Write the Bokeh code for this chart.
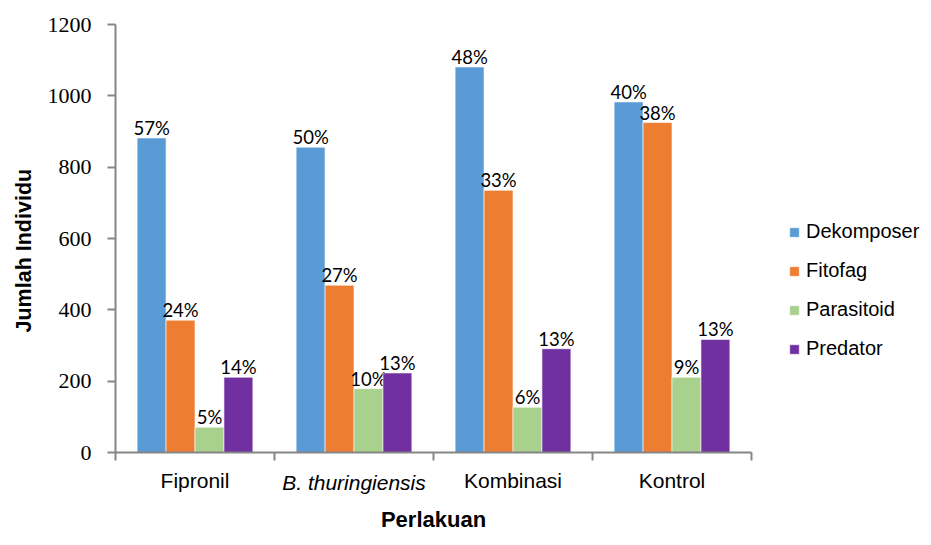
from bokeh.plotting import figure
from bokeh.models import (ColumnDataSource, FixedTicker, Legend, LegendItem, LinearAxis, Title)
from bokeh.embed import file_html
from bokeh.resources import INLINE

categories = ["Fipronil", "B. thuringiensis", "Kombinasi", "Kontrol"]
italic_category = "B. thuringiensis"
series = ["Dekomposer", "Fitofag", "Parasitoid", "Predator"]
dekomposer = [882, 856, 1081, 983]
fitofag = [371, 469, 735, 925]
parasitoid = [71, 179, 127, 211]
predator = [211, 223, 291, 317]
pct_dekomposer = ["57%", "50%", "48%", "40%"]
pct_fitofag = ["24%", "27%", "33%", "38%"]
pct_parasitoid = ["5%", "10%", "6%", "9%"]
pct_predator = ["14%", "13%", "13%", "13%"]
y_ticks = [0, 200, 400, 600, 800, 1000, 1200]

values = [dekomposer, fitofag, parasitoid, predator]
pcts = [pct_dekomposer, pct_fitofag, pct_parasitoid, pct_predator]
colors = ["#5B9BD5", "#ED7D31", "#A9D18E", "#7030A0"]

n = len(categories)
p = figure(output_backend="svg", toolbar_location=None,
           frame_width=636, frame_height=428,
           x_range=(0, n), y_range=(0, 1200),
           x_axis_location=None,
           min_border_left=113, min_border_right=166,
           min_border_top=24, min_border_bottom=77)
p.outline_line_color = None
p.xgrid.visible = False
p.ygrid.visible = False

bw = 0.182
items = []
for k, (name, vals, pc, col) in enumerate(zip(series, values, pcts, colors)):
    xs = [i + 0.5 + (k - 1.5) * bw for i in range(n)]
    src = ColumnDataSource(dict(x=xs, top=vals, label=pc))
    r = p.vbar(x="x", top="top", width=bw, source=src, fill_color=col,
               line_color="white", line_width=0.6)
    p.text(x="x", y="top", text="label", source=src, text_align="center",
           text_baseline="bottom", text_font_size="18.5px", text_color="black",
           text_font={"value": "Lato"}, y_offset=1)
    items.append(LegendItem(label=name, renderers=[r]))

# y axis
p.yaxis.ticker = FixedTicker(ticks=y_ticks)
p.yaxis.major_label_text_font = "Liberation Serif"
p.yaxis.major_label_text_font_size = "22px"
p.yaxis.major_label_text_color = "black"
p.yaxis.major_label_standoff = 16
p.yaxis.axis_line_color = "#868686"
p.yaxis.axis_line_width = 2
p.yaxis.major_tick_line_color = "#868686"
p.yaxis.major_tick_line_width = 2
p.yaxis.major_tick_out = 8
p.yaxis.major_tick_in = 0
p.yaxis.minor_tick_line_color = None

ytitle = Title(text="Jumlah Individu", align="left", offset=120, standoff=18,
               text_font="Liberation Sans", text_font_style="bold",
               text_font_size="21.5px", text_color="black")
p.add_layout(ytitle, "left")

# x axis: boundary ticks (minor) + centred category labels (major)
centers = [i + 0.5 for i in range(n)]
xa = LinearAxis(ticker=FixedTicker(ticks=centers, minor_ticks=list(range(n + 1))))
xa.major_label_overrides = {c: ("" if cat == italic_category else cat)
                            for c, cat in zip(centers, categories)}
xa.major_label_text_font = "Liberation Sans"
xa.major_label_text_font_size = "21px"
xa.major_label_text_color = "black"
xa.major_label_standoff = 8
xa.axis_line_color = "#868686"
xa.axis_line_width = 2
xa.major_tick_line_color = None
xa.major_tick_out = 8
xa.major_tick_in = 0
xa.minor_tick_line_color = "#868686"
xa.minor_tick_line_width = 2
xa.minor_tick_out = 8
xa.minor_tick_in = 0
p.add_layout(xa, "below")

ic = centers[categories.index(italic_category)]
xb = LinearAxis(ticker=FixedTicker(ticks=[ic]))
xb.major_label_overrides = {ic: italic_category}
xb.major_label_text_font = "Liberation Sans"
xb.major_label_text_font_style = "italic"
xb.major_label_text_font_size = "21px"
xb.major_label_text_color = "black"
xb.major_label_standoff = -24
xb.axis_line_color = None
xb.major_tick_line_color = None
xb.major_tick_out = 0
xb.major_tick_in = 0
xb.minor_tick_line_color = None
xb.axis_label = "Perlakuan"
xb.axis_label_text_font = "Liberation Sans"
xb.axis_label_text_font_style = "bold"
xb.axis_label_text_font_size = "22px"
xb.axis_label_text_color = "black"
xb.axis_label_standoff = 10
p.add_layout(xb, "below")

legend = Legend(items=items, location=(37, 92), orientation="vertical",
                glyph_width=12, glyph_height=12, label_height=20,
                spacing=16, label_standoff=6, padding=10, margin=0,
                label_text_font="Liberation Sans", label_text_font_size="20px",
                label_text_color="black", border_line_color=None,
                background_fill_alpha=0)
p.add_layout(legend, "right")

open("out.html", "w").write(file_html(p, INLINE))
